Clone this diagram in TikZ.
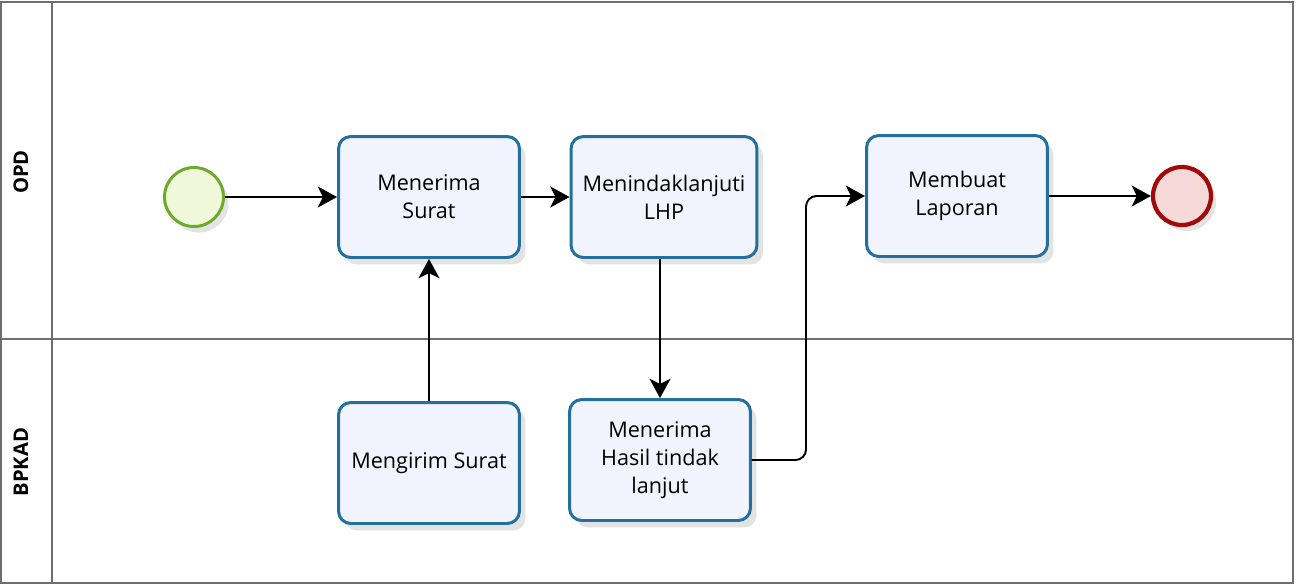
\documentclass[tikz,border=0pt]{standalone}
\usepackage{fontspec}
\setmainfont{Open Sans}
\usetikzlibrary{positioning, calc, arrows.meta, shadows}

\definecolor{taskline}{HTML}{23709F}
\definecolor{taskfill}{HTML}{F1F4FD}
\definecolor{startline}{HTML}{6CAA2C}
\definecolor{startfill}{HTML}{F1F8DA}
\definecolor{endline}{HTML}{A10A0A}
\definecolor{endfill}{HTML}{F5D9D9}
\definecolor{laneline}{HTML}{6E6E6E}

\tikzset{
	task/.style={shape=rectangle, rounded corners=7pt, draw=taskline, line width=1.7pt, fill=taskfill,
		minimum width=3.62cm, minimum height=2.42cm, align=center, font=\fontsize{12.3}{16}\selectfont,
		drop shadow={shadow xshift=0.12cm, shadow yshift=-0.14cm, opacity=0.22}},
	startev/.style={shape=circle, draw=startline, line width=1.7pt, fill=startfill, minimum size=1.18cm,
		drop shadow={shadow xshift=0.1cm, shadow yshift=-0.12cm, opacity=0.22}},
	endev/.style={shape=circle, draw=endline, line width=2.4pt, fill=endfill, minimum size=1.16cm,
		drop shadow={shadow xshift=0.1cm, shadow yshift=-0.12cm, opacity=0.22}},
	flow/.style={line width=1.1pt, -{Stealth[length=11pt, width=12pt, inset=3pt]}},
	lane/.style={draw=laneline, line width=1.1pt},
	lanelabel/.style={rotate=90, font=\fontsize{11.5}{13}\bfseries}
}

\begin{document}
\begin{tikzpicture}[x=0.02cm, y=-0.02cm]
		\useasboundingbox (0, 0) rectangle (1296, 586);
		% swimlanes
		\draw[lane] (1, 2) rectangle (1293, 583);
		\draw[lane] (52, 2) -- (52, 583);
		\draw[lane] (1, 339) -- (1293, 339);
		\node[lanelabel] (opd) at (21, 172) {OPD};
		\node[lanelabel] (bpkad) at (21, 462) {BPKAD};

		% OPD
		\node[startev] (mulai) at (194, 197) {};
		\node[task] (terima) at (429, 197) {Menerima\\Surat};
		\node[task, minimum width=3.72cm] (tindak) at (664, 197) {Menindaklanjuti\\LHP};
		\node[task] (lapor) at (957, 196) {Membuat\\Laporan};
		\node[endev] (selesai) at (1182, 196) {};

		% BPKAD
		\node[task] (kirim) at (429, 463) {Mengirim Surat};
		\node[task] (hasil) at (660, 460) {Menerima\\Hasil tindak\\lanjut};

		\draw[flow] (mulai) -- (terima);
		\draw[flow] (terima) -- (tindak);
		\draw[flow] (kirim) -- (terima);
		\draw[flow] (hasil.north |- tindak.south) -- (hasil.north);
		\draw[flow, rounded corners=6pt] (hasil.east) -| ($(lapor.west)+(-59, 0)$) -- (lapor.west);
		\draw[flow] (lapor) -- (selesai);
	\end{tikzpicture}
\end{document}
